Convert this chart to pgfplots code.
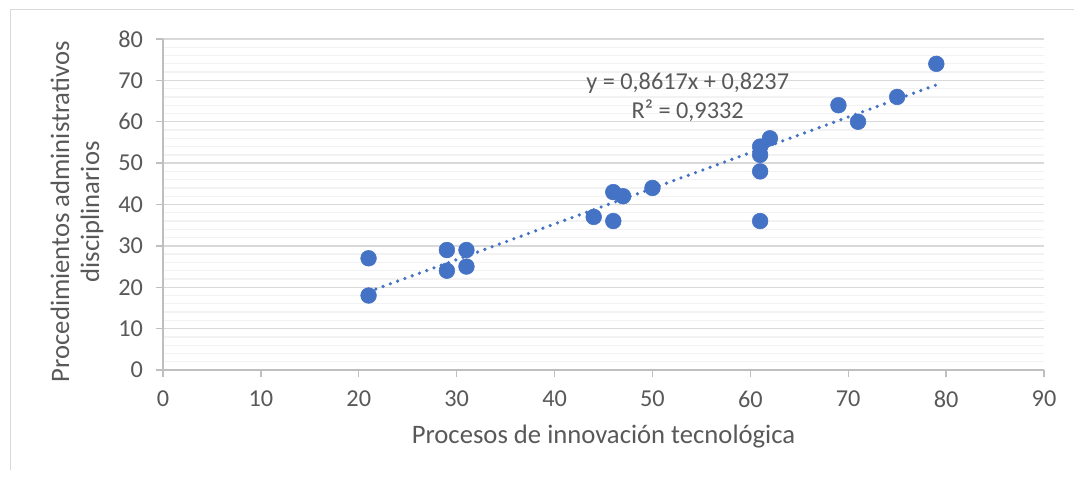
\documentclass[border=0pt]{standalone}
\usepackage{fontspec}
\setmainfont{Carlito}
\usepackage{pgfplots}
\pgfplotsset{compat=1.18}
\definecolor{ptc}{HTML}{4472C4}
\definecolor{txt}{HTML}{595959}
\definecolor{majg}{HTML}{D9D9D9}
\definecolor{ming}{HTML}{F2F2F2}
\definecolor{axc}{HTML}{BFBFBF}
\definecolor{frm}{HTML}{D9D9D9}
\begin{document}
\begin{tikzpicture}
\path[use as bounding box, fill=white] (0pt,0pt) rectangle (805.5pt,360.75pt);
\draw[frm, line width=0.75pt] (7.5pt,8.25pt) -- (7.5pt,353.25pt) -- (805.5pt,353.25pt);
\begin{axis}[
  at={(122.25pt,83.25pt)}, anchor=south west,
  scale only axis, width=660.75pt, height=248.25pt,
  xmin=0, xmax=90, ymin=0, ymax=80,
  xtick={0,10,...,90}, ytick={0,10,...,80},
  minor y tick num=4,
  ymajorgrids, yminorgrids,
  axis x line=bottom, axis y line=left,
  axis line style={axc, line width=1pt, -},
  x axis line style={-}, y axis line style={-},
  major grid style={majg, line width=1pt},
  minor grid style={ming, line width=1pt},
  tick align=outside,
  major tick style={axc, line width=1pt},
  major tick length=5.5pt,
  minor tick length=0pt,
  tick label style={font=\fontsize{18.2}{22}\selectfont, color=txt},
  /pgf/number format/assume math mode=true,
  xticklabel style={yshift=-6.5pt},
  yticklabel style={xshift=-6pt},
  xlabel={Procesos de innovación tecnológica},
  ylabel={Procedimientos administrativos\\disciplinarios},
  label style={font=\fontsize{20}{22.5}\selectfont, color=txt},
  xlabel style={at={(axis description cs:0.5,-0.2024)}, anchor=center},
  ylabel style={at={(axis description cs:-0.0976,0.478)}, anchor=center, align=center},
  clip=false,
]
\addplot[only marks, mark=*, mark size=5.9pt, mark options={draw=ptc, fill=ptc}] table {
x y
21 27
21 18
29 29
29 24
31 29
31 25
44 37
46 43
46 36
47 42
50 44
61 54
61 52
61 48
61 36
62 56
69 64
71 60
75 66
79 74
};
\addplot[ptc, line width=2.7pt, line cap=round, dash pattern=on 0pt off 5.8pt] coordinates {(21,18.92) (79,68.90)};
\node[align=center, font=\fontsize{18.2}{21.75}\selectfont, color=txt] at (axis cs:53.6,65.9) {y = 0,8617x + 0,8237\\R² = 0,9332};
\end{axis}
\end{tikzpicture}
\end{document}
